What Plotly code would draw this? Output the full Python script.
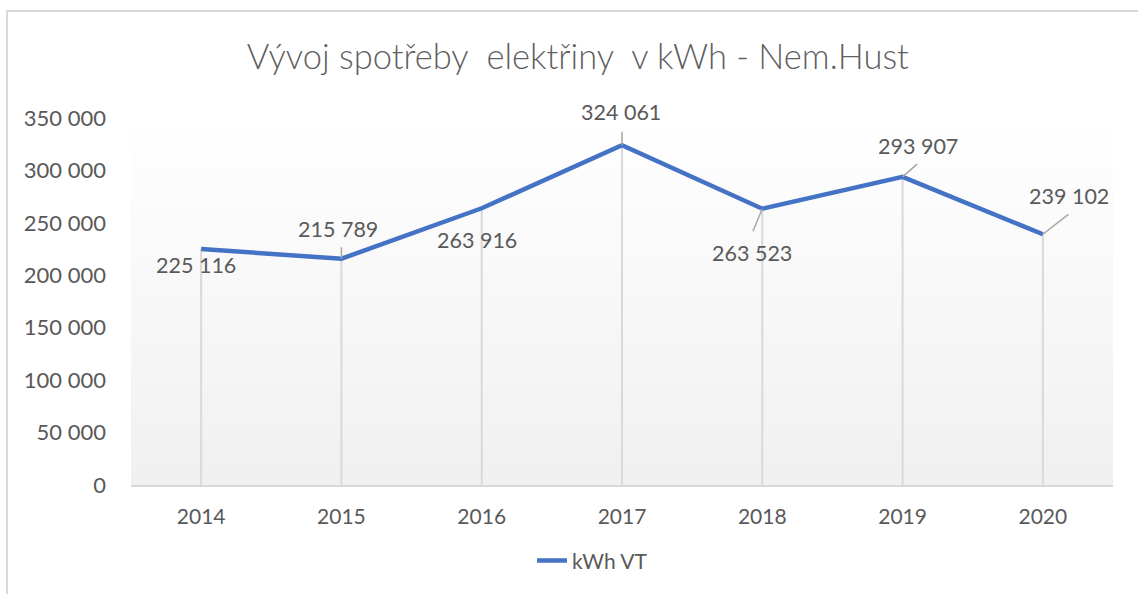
import base64
import plotly.graph_objects as go

# ---- data ----
years = [2014, 2015, 2016, 2017, 2018, 2019, 2020]
kwh_vt = [225116, 215789, 263916, 324061, 263523, 293907, 239102]
series_name = "kWh VT"
title_text = "Vývoj spotřeby\u00a0 elektřiny\u00a0 v kWh - Nem.Hust"
y_ticks = [0, 50000, 100000, 150000, 200000, 250000, 300000, 350000]

# ---- styles ----
FONT = "Lato"
TXT = "#595959"
GRID = "#d9d9d9"
LINE = "#4472C4"

# label offsets (pixels, dx right, dy down) and leader-line ends
label_off = [(-5, 16), (-3, -30), (-5, 32), (-1, -33), (-10, 44), (15, -31), (26, -38)]
leader_off = [None, (0, -13), None, (0, -15), (-10, 24), (16, -14), (27, -21)]

def fmt(v):
    return f"{v:,}".replace(",", " ")

fig = go.Figure()

# drop lines (from each point down to the axis)
fig.add_trace(go.Scatter(
    x=years, y=kwh_vt, mode="markers", marker=dict(size=0.1, color="rgba(0,0,0,0)"),
    error_y=dict(type="data", symmetric=False, array=[0] * len(kwh_vt), arrayminus=kwh_vt,
                 width=0, thickness=2, color=GRID),
    showlegend=False, hoverinfo="skip",
))

fig.add_trace(go.Scatter(
    x=years, y=kwh_vt, mode="lines", name=series_name,
    line=dict(color=LINE, width=4.5),
))

annotations = []
for yr, v, (dx, dy), lead in zip(years, kwh_vt, label_off, leader_off):
    if lead is not None:
        annotations.append(dict(
            x=yr, y=v, xref="x", yref="y", text="", showarrow=True, arrowhead=0,
            arrowwidth=1.5, arrowcolor="#a6a6a6", ax=lead[0], ay=lead[1], standoff=0,
        ))
    annotations.append(dict(
        x=yr, y=v, xref="x", yref="y", text=fmt(v), showarrow=False,
        xshift=dx, yshift=-dy, font=dict(family=FONT, size=21.5, color=TXT),
    ))

svg = ('<svg xmlns="http://www.w3.org/2000/svg" width="100" height="100" viewBox="0 0 100 100" '
       'preserveAspectRatio="none"><defs><linearGradient id="g" x1="0" y1="0" x2="0" y2="1">'
       '<stop offset="0" stop-color="#ffffff"/><stop offset="1" stop-color="#f0f0f0"/>'
       '</linearGradient></defs><rect width="100" height="100" fill="url(#g)"/></svg>')
svg_uri = "data:image/svg+xml;base64," + base64.b64encode(svg.encode()).decode()

fig.update_layout(
    width=1138, height=594,
    margin=dict(l=131, r=25, t=118, b=109),
    paper_bgcolor="white", plot_bgcolor="white",
    separators=". ",
    font=dict(family=FONT, size=21, color=TXT),
    title=dict(text=title_text, x=0.455, xref="paper", xanchor="center",
               y=1 - 57 / 594, yref="container", yanchor="middle",
               font=dict(family=FONT, size=34.5, color="#5f5f5f", weight=300)),
    xaxis=dict(range=[2013.5, 2020.5], tickvals=years, tickformat="d", showgrid=False,
               zeroline=False, showline=True, linecolor=GRID, linewidth=2,
               ticks="", ticklabelstandoff=12, tickfont=dict(size=21, color=TXT), fixedrange=True),
    yaxis=dict(range=[0, 350000], tickvals=y_ticks, tickformat=",d", showgrid=False,
               zeroline=False, showline=False, ticks="", ticklabelstandoff=24,
               tickfont=dict(size=22, color=TXT), fixedrange=True),
    showlegend=True,
    legend=dict(orientation="h", x=0.47, xanchor="center", y=-0.207, yanchor="middle",
                font=dict(size=21, color=TXT), bgcolor="rgba(0,0,0,0)"),
    annotations=annotations,
    images=[dict(source=svg_uri, xref="paper", yref="paper", x=0, y=1, sizex=1, sizey=1,
                 xanchor="left", yanchor="top", sizing="stretch", layer="below")],
    shapes=[dict(type="rect", xref="paper", yref="paper", x0=-0.1263, x1=1.05, y0=-0.35, y1=1.2916,
                 line=dict(color=GRID, width=2), fillcolor="rgba(0,0,0,0)", layer="below")],
)

fig.write_html("out.html", config={"displayModeBar": False},
               post_script="document.body.style.margin='0';")
